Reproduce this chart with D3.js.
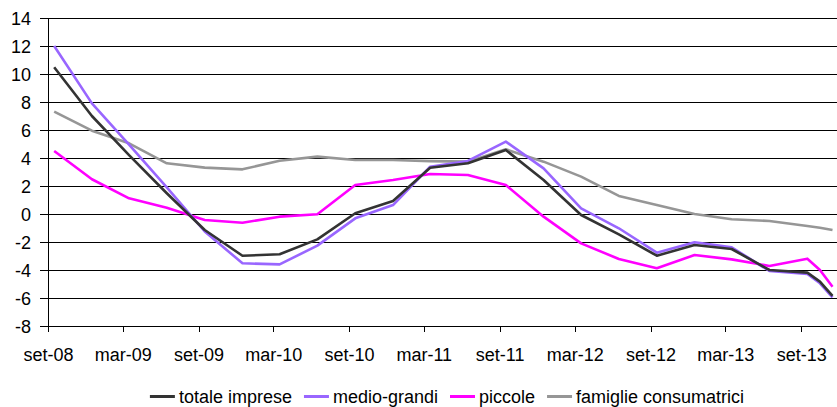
<!DOCTYPE html>
<html>
<head>
<meta charset="utf-8">
<script src="https://cdn.jsdelivr.net/npm/d3@7"></script>
<style>
  html, body { margin: 0; padding: 0; background: #fff; }
  svg { display: block; font-family: Arial, "Liberation Sans", sans-serif; }
</style>
</head>
<body>
<svg id="chart" width="837" height="407"></svg>
<script>
// ---- data ----
const months = ["2008-09","2008-12","2009-03","2009-06","2009-09","2009-12","2010-03","2010-06",
  "2010-09","2010-12","2011-03","2011-06","2011-09","2011-12","2012-03","2012-06",
  "2012-09","2012-12","2013-03","2013-06","2013-09","2013-10","2013-11"];
const totaleImprese = [10.48,7.0,4.2,1.48,-1.14,-2.98,-2.88,-1.81,0.05,0.93,3.3,3.62,4.57,2.43,-0.07,-1.45,-2.98,-2.21,-2.5,-4.0,-4.19,-4.83,-5.85];
const medioGrandi   = [12.0,7.9,4.95,1.9,-1.25,-3.52,-3.6,-2.26,-0.31,0.64,3.38,3.79,5.17,3.26,0.4,-1.02,-2.76,-2.02,-2.38,-4.07,-4.29,-4.95,-5.95];
const piccole       = [4.5,2.48,1.12,0.45,-0.43,-0.62,-0.19,-0.02,2.07,2.43,2.86,2.79,2.07,-0.19,-2.1,-3.21,-3.88,-2.93,-3.24,-3.71,-3.19,-4.0,-5.19];
const famiglie      = [7.31,5.95,5.05,3.62,3.31,3.19,3.8,4.1,3.86,3.86,3.78,3.74,4.62,3.74,2.67,1.29,0.64,0.0,-0.38,-0.5,-0.86,-0.98,-1.14];
const seriesNames  = ["totale imprese","medio-grandi","piccole","famiglie consumatrici"];
const seriesColors = ["#333333","#9966ff","#ff00ff","#969696"];
const tickMonths = ["2008-09","2009-03","2009-09","2010-03","2010-09","2011-03","2011-09","2012-03","2012-09","2013-03","2013-09"];
const tickLabels = ["set-08","mar-09","set-09","mar-10","set-10","mar-11","set-11","mar-12","set-12","mar-13","set-13"];
const yTicks = [-8,-6,-4,-2,0,2,4,6,8,10,12,14];

// ---- layout ----
const svg = d3.select("#chart");
const pL = 48, pR = 838.7, pT = 18, pB = 326;
const parse = d3.timeParse("%Y-%m");
const x = d3.scaleTime()
  .domain([parse("2008-09"), parse("2013-12")])
  .range([pL, pR]);
const y = d3.scaleLinear().domain([-8, 14]).range([pB, pT]);
const mid = d => { const a = parse(d), b = d3.timeMonth.offset(a, 1); return new Date((+a + +b) / 2); };

// gridlines + y ticks
const yAxis = d3.axisLeft(y).tickValues(yTicks).tickSize(-(pR - pL)).tickPadding(0).tickFormat(d => String(d));
const gy = svg.append("g").attr("transform", `translate(${pL},0)`).call(yAxis);
gy.select(".domain").remove();
gy.selectAll(".tick line").attr("stroke", "#000").attr("x1", -8).attr("shape-rendering", "crispEdges");
gy.selectAll(".tick text").attr("x", -17).attr("font-size", 18).attr("fill", "#000")
  .attr("font-family", "Arial, 'Liberation Sans', sans-serif").attr("dy", "0.35em");

// y axis line
svg.append("line").attr("x1", pL).attr("x2", pL).attr("y1", pT).attr("y2", pB)
  .attr("stroke", "#000").attr("shape-rendering", "crispEdges");

// x axis
const xAxis = d3.axisBottom(x).tickValues(tickMonths.map(parse)).tickSize(6).tickPadding(0)
  .tickFormat((d, i) => tickLabels[i]);
const gx = svg.append("g").attr("transform", `translate(0,${pB})`).call(xAxis);
gx.select(".domain").attr("stroke", "#000").attr("d", `M${pL},0.5H${pR}`);
gx.selectAll(".tick line").attr("stroke", "#000").attr("shape-rendering", "crispEdges");
gx.selectAll(".tick text").attr("y", 22).attr("dy", "0.71em").attr("font-size", 18).attr("fill", "#000")
  .attr("font-family", "Arial, 'Liberation Sans', sans-serif");

// lines
const allSeries = [totaleImprese, medioGrandi, piccole, famiglie];
const line = d3.line().x((d, i) => x(mid(months[i]))).y(d => y(d));
const drawOrder = [3, 2, 1, 0];
drawOrder.forEach(k => {
  svg.append("path").datum(allSeries[k]).attr("d", line).attr("fill", "none")
    .attr("stroke", seriesColors[k]).attr("stroke-width", 2.6).attr("stroke-linejoin", "round");
});

// legend
const lg = svg.append("g");
let cx = 0;
seriesNames.forEach((name, k) => {
  lg.append("line").attr("x1", cx).attr("x2", cx + 25).attr("y1", 396.5).attr("y2", 396.5)
    .attr("stroke", seriesColors[k]).attr("stroke-width", 3);
  const t = lg.append("text").attr("x", cx + 29).attr("y", 403).attr("font-size", 18).attr("fill", "#000")
    .text(name);
  cx += 29 + t.node().getComputedTextLength() + 12;
});
const totalW = cx - 12;
lg.attr("transform", `translate(${447 - totalW / 2},0)`);
</script>
</body>
</html>
